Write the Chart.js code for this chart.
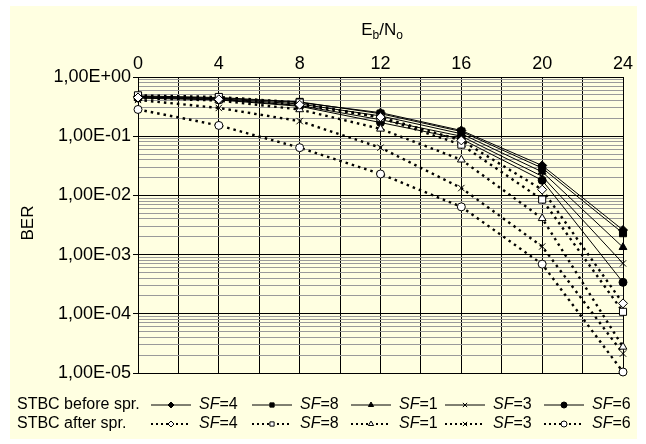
<!DOCTYPE html>
<html><head><meta charset="utf-8">
<script src="https://cdn.jsdelivr.net/npm/chart.js@4.4.1/dist/chart.umd.min.js"></script>
<style>html,body{margin:0;padding:0;background:#fff;}canvas{display:block;}</style>
</head><body>
<canvas id="c" width="646" height="444"></canvas>
<script>
// ---------- data ----------
const ebNo = [0, 4, 8, 12, 16, 20, 24];
const beforeSF4 = [0.47, 0.44, 0.37, 0.25, 0.125, 0.032, 0.0026];
const beforeSF8 = [0.48, 0.45, 0.38, 0.24, 0.12, 0.029, 0.0023];
const beforeSF1 = [0.46, 0.43, 0.35, 0.22, 0.11, 0.025, 0.00133];
const beforeSF3 = [0.45, 0.42, 0.33, 0.19, 0.10, 0.021, 0.00071];
const beforeSF6 = [0.44, 0.41, 0.32, 0.17, 0.09, 0.018, 0.00034];
const afterSF4 = [0.45, 0.42, 0.34, 0.21, 0.085, 0.0125, 0.00015];
const afterSF8 = [0.49, 0.46, 0.37, 0.205, 0.072, 0.0085, 0.000108];
const afterSF1 = [0.44, 0.40, 0.283, 0.133, 0.040, 0.0041, 0.0000276];
const afterSF3 = [0.41, 0.30, 0.18, 0.064, 0.0133, 0.00137, 0.0000213];
const afterSF6 = [0.283, 0.152, 0.064, 0.023, 0.0064, 0.00069, 0.0000104];

const xTickLabels = ['0', '4', '8', '12', '16', '20', '24'];
const yDecades = [1e-5, 1e-4, 1e-3, 1e-2, 1e-1, 1];
const yTickLabels = ['1,00E-05', '1,00E-04', '1,00E-03', '1,00E-02', '1,00E-01', '1,00E+00'];
const seriesLabels = ['SF=4', 'SF=8', 'SF=1', 'SF=3', 'SF=6'];
const rowLabels = ['STBC before spr.', 'STBC after spr.'];
const xTitle = ['E', 'b', '/N', 'o'];
const yTitle = 'BER';

// ---------- styles ----------
const BG = '#FFFFE1';
const FONT = "'Liberation Sans', Arial, sans-serif";
const markerStyles = ['rectRot', 'rect', 'triangle', 'crossRot', 'circle'];
const markerRadius = [4.5, 5, 4.5, 4.5, 4];
const beforeSeries = [beforeSF4, beforeSF8, beforeSF1, beforeSF3, beforeSF6];
const afterSeries = [afterSF4, afterSF8, afterSF1, afterSF3, afterSF6];
const DOT_DASH = [2.5, 4];

const datasets = [];
afterSeries.forEach((s, i) => {
  datasets.push({
    label: rowLabels[1] + ' ' + seriesLabels[i],
    data: ebNo.map((x, j) => ({x, y: s[j]})),
    borderColor: '#000', borderWidth: 2.4, borderDash: DOT_DASH,
    pointStyle: markerStyles[i], pointRadius: markerRadius[i],
    pointBackgroundColor: '#fff', pointBorderColor: '#000', pointBorderWidth: 1,
    clip: false, tension: 0
  });
});
beforeSeries.forEach((s, i) => {
  datasets.push({
    label: rowLabels[0] + ' ' + seriesLabels[i],
    data: ebNo.map((x, j) => ({x, y: s[j]})),
    borderColor: '#000', borderWidth: 1,
    pointStyle: markerStyles[i], pointRadius: markerRadius[i],
    pointBackgroundColor: '#000', pointBorderColor: '#000', pointBorderWidth: 1,
    clip: false, tension: 0
  });
});

function isDecade(v) {
  const l = Math.log10(v);
  return Math.abs(l - Math.round(l)) < 1e-9;
}

const decor = {
  id: 'decor',
  beforeDraw(chart) {
    const ctx = chart.ctx;
    ctx.save();
    ctx.fillStyle = '#fff';
    ctx.fillRect(0, 0, chart.width, chart.height);
    ctx.fillStyle = BG;
    ctx.fillRect(10, 6, 627, 433);
    ctx.restore();
  },
  afterDraw(chart) {
    const ctx = chart.ctx;
    ctx.save();
    ctx.fillStyle = '#000';
    // x title with subscripts
    const big = '17px ' + FONT, small = '12px ' + FONT;
    const parts = xTitle.map((t, i) => ({t, f: i % 2 ? small : big, dy: i % 2 ? 4 : 0}));
    let w = 0;
    parts.forEach(p => { ctx.font = p.f; p.w = ctx.measureText(p.t).width; w += p.w; });
    let x = 382 - w / 2;
    ctx.textBaseline = 'alphabetic';
    parts.forEach(p => { ctx.font = p.f; ctx.fillText(p.t, x, 35 + p.dy); x += p.w; });
    // y title
    ctx.font = '17px ' + FONT;
    ctx.translate(28, 223);
    ctx.rotate(-Math.PI / 2);
    ctx.textAlign = 'center';
    ctx.textBaseline = 'middle';
    ctx.fillText(yTitle, 0, 0);
    ctx.restore();

    // legend
    ctx.save();
    const rowY = [405, 424];
    const textX = [199, 300, 399, 493, 592];
    ctx.textBaseline = 'middle';
    rowLabels.forEach((lab, r) => {
      const y = rowY[r];
      ctx.fillStyle = '#000';
      ctx.font = '16px ' + FONT;
      ctx.fillText(lab, 17, y);
      seriesLabels.forEach((s, k) => {
        const tx = textX[k];
        ctx.save();
        ctx.strokeStyle = '#000';
        ctx.lineWidth = r === 0 ? 1 : 2;
        ctx.setLineDash(r === 0 ? [] : [2, 3]);
        ctx.beginPath();
        ctx.moveTo(tx - 48, y);
        ctx.lineTo(tx - 8, y);
        ctx.stroke();
        ctx.setLineDash([]);
        ctx.fillStyle = r === 0 ? '#000' : '#fff';
        ctx.lineWidth = 1;
        Chart.helpers.drawPoint(ctx, {pointStyle: markerStyles[k], radius: 3, rotation: 0, borderWidth: 1}, tx - 28, y);
        ctx.restore();
        ctx.fillStyle = '#000';
        ctx.font = 'italic 16px ' + FONT;
        ctx.fillText('SF', tx, y);
        const sw = ctx.measureText('SF').width;
        ctx.font = '16px ' + FONT;
        ctx.fillText(s.slice(2), tx + sw, y);
      });
    });
    ctx.restore();
  }
};

new Chart(document.getElementById('c'), {
  type: 'line',
  data: {datasets},
  options: {
    responsive: false, animation: false, devicePixelRatio: 1,
    layout: {padding: {left: 0, right: 23, top: 0, bottom: 71}},
    plugins: {legend: {display: false}, tooltip: {enabled: false}},
    scales: {
      x: {
        type: 'linear', position: 'top', min: 0, max: 24,
        afterFit(s) { s.height = 77; },
        ticks: {
          stepSize: 2, autoSkip: false, maxRotation: 0, padding: 2,
          color: '#000', font: {family: FONT, size: 18},
          callback: v => (v % 4 === 0 ? xTickLabels[v / 4] : '')
        },
        grid: {color: '#000', lineWidth: 1, drawTicks: false},
        border: {color: '#000', width: 1}
      },
      y: {
        type: 'logarithmic', position: 'left', min: 1e-5, max: 1,
        afterFit(s) { s.width = 138; },
        afterBuildTicks(s) {
          const t = [];
          for (let d = 0; d < yDecades.length; d++) {
            t.push({value: yDecades[d]});
            if (d < yDecades.length - 1) {
              for (let m = 2; m <= 9; m++) t.push({value: +(m * yDecades[d]).toPrecision(6)});
            }
          }
          s.ticks = t;
        },
        ticks: {
          autoSkip: false, padding: 2, color: '#000', font: {family: FONT, size: 18},
          callback: v => {
            if (!isDecade(v)) return '';
            const i = yDecades.findIndex(d => Math.abs(Math.log10(d) - Math.log10(v)) < 1e-9);
            return yTickLabels[i];
          }
        },
        grid: {
          color: c => (c.tick && isDecade(c.tick.value) ? '#000' : '#9a9a9a'),
          tickColor: c => (c.tick && isDecade(c.tick.value) ? '#000' : 'rgba(0,0,0,0)'),
          lineWidth: 1, tickLength: 5
        },
        border: {color: '#000', width: 1}
      }
    }
  },
  plugins: [decor]
});
</script>
</body></html>
